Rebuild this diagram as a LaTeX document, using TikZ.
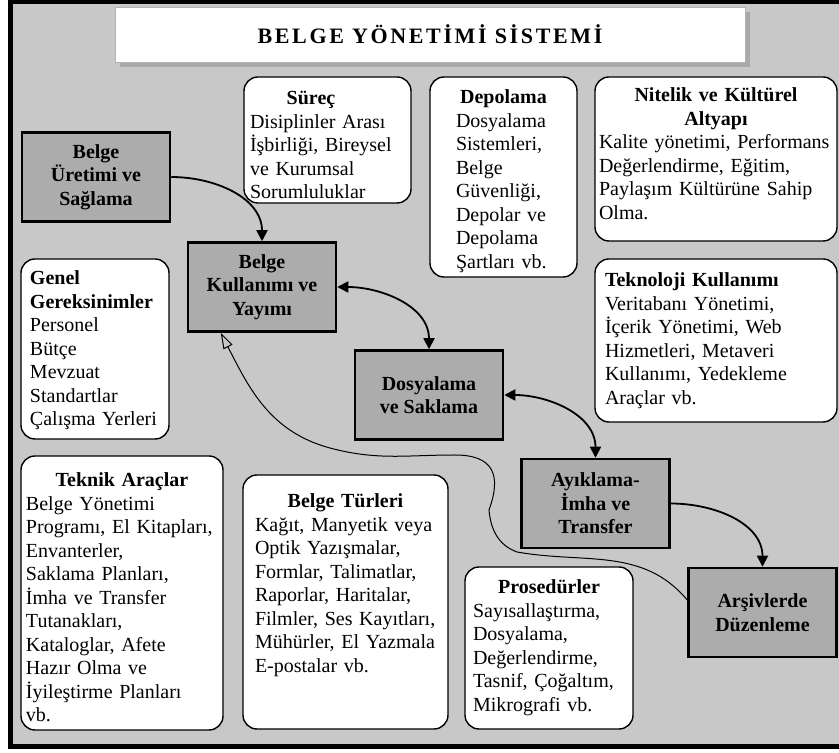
\documentclass[tikz,border=0pt]{standalone}
\usepackage{fontspec}
\setmainfont{Liberation Serif}
\usetikzlibrary{arrows.meta,shadows}
\definecolor{panel}{RGB}{200,200,200}
\definecolor{stagegray}{RGB}{172,172,172}
\newcommand{\cardtitle}[1]{\makebox[\linewidth]{\textbf{#1}}}

\begin{document}
\begin{tikzpicture}[x=1pt,y=1pt,>={Triangle[length=11pt,width=11pt]},
    stage/.style={draw,line width=2.5pt,fill=stagegray,minimum width=148pt,
                  minimum height=89pt,align=center,
                  font=\bfseries\fontsize{20}{23.5}\selectfont},
    card/.style={draw,line width=1.4pt,fill=white,rounded corners=14pt,
                 align=left,inner ysep=0pt,font=\fontsize{20}{23.5}\selectfont},
    link/.style={->,line width=1.8pt},
    feedback/.style={-{Triangle[open,length=16pt,width=10pt]},line width=1pt}]

  % frame
  \useasboundingbox (0,0) rectangle (839,753);
  \draw[line width=5pt,fill=panel] (10.5,751) rectangle (850,6);

  \node[draw=gray!60,fill=white,minimum width=630pt,minimum height=55pt,
        drop shadow={shadow xshift=5pt,shadow yshift=-5pt,fill=black!45}]
        (baslik) at (430,718.5)
        {\fontsize{22}{26}\selectfont\bfseries\addfontfeature{LetterSpace=12}BELGE YÖNETİMİ SİSTEMİ};

  % white boxes
  \node[card,text width=155pt,inner xsep=6pt,text height=28pt,text depth=98pt]
        (surec) at (327.5,613)
        {\makebox[122pt]{\textbf{Süreç}}\\Disiplinler Arası\\İşbirliği, Bireysel\\ve Kurumsal\\Sorumluluklar};
  \node[card,text width=95pt,inner xsep=26pt,text height=27pt,text depth=173pt]
        (depolama) at (503.5,576)
        {\cardtitle{Depolama}\\Dosyalama\\Sistemleri,\\Belge\\Güvenliği,\\Depolar ve\\Depolama\\Şartları vb.};
  \node[card,text width=234pt,inner xsep=4pt,text height=25pt,text depth=139pt]
        (nitelik) at (716,594)
        {\cardtitle{Nitelik ve Kültürel}\\\cardtitle{Altyapı}\\Kalite yönetimi, Performans\\Değerlendirme, Eğitim,\\Paylaşım Kültürüne Sahip\\Olma.};
  \node[card,text width=222pt,inner xsep=10pt,text height=28pt,text depth=135pt]
        (teknoloji) at (716,412.5)
        {\textbf{Teknoloji Kullanımı}\\Veritabanı Yönetimi,\\İçerik Yönetimi, Web\\Hizmetleri, Metaveri\\Kullanımı, Yedekleme\\Araçlar vb.};
  \node[card,text width=130pt,inner xsep=9pt,text height=26pt,text depth=154pt]
        (genel) at (95,404)
        {\textbf{Genel}\\\textbf{Gereksinimler}\\Personel\\Bütçe\\Mevzuat\\Standartlar\\Çalışma Yerleri};
  \node[card,text width=192pt,inner xsep=5pt,text height=31pt,text depth=243pt]
        (teknik) at (122,160)
        {\cardtitle{Teknik Araçlar}\\Belge Yönetimi\\Programı, El Kitapları,\\Envanterler,\\Saklama Planları,\\İmha ve Transfer\\Tutanakları,\\Kataloglar, Afete\\Hazır Olma ve\\İyileştirme Planları\\vb.};
  \node[card,text width=181pt,inner xsep=12pt,text height=33pt,text depth=221pt]
        (turler) at (345.5,151)
        {\cardtitle{Belge Türleri}\\Kağıt, Manyetik veya\\Optik Yazışmalar,\\Formlar, Talimatlar,\\Raporlar, Haritalar,\\Filmler, Ses Kayıtları,\\Mühürler, El Yazmala\\E-postalar vb.};
  \node[card,text width=152pt,inner xsep=8pt,text height=27pt,text depth=135pt]
        (prosedur) at (549,105)
        {\cardtitle{Prosedürler}\\Sayısallaştırma,\\Dosyalama,\\Değerlendirme,\\Tasnif, Çoğaltım,\\Mikrografi vb.};

  % process steps
  \node[stage] (uretim)   at (96,576)      {Belge\\Üretimi ve\\Sağlama};
  \node[stage] (kullanim) at (262,466)     {Belge\\Kullanımı ve\\Yayımı};
  \node[stage] (dosya)    at (429,358)     {Dosyalama\\ve Saklama};
  \node[stage] (ayiklama) at (595.5,249.5) {Ayıklama-\\İmha ve\\Transfer};
  \node[stage] (arsiv)    at (762.5,140.5) {Arşivlerde\\Düzenleme};

  \path[link] (uretim)   edge [out=0,in=90]      (kullanim)
              (kullanim) edge [<->,out=0,in=90] (dosya)
              (dosya)    edge [<->,out=0,in=90] (ayiklama)
              (ayiklama) edge [out=0,in=90]      (arsiv);

  \draw[feedback] ([yshift=12.5pt]arsiv.west) to[out=130,in=-10] (517,201)
        to[out=160,in=-85] (489,243) to[out=70,in=0,looseness=1.5] (455,298)
        to[out=180,in=-15] (330,305)
        to[out=165,in=-63] ([xshift=34pt]kullanim.south west);
\end{tikzpicture}
\end{document}
